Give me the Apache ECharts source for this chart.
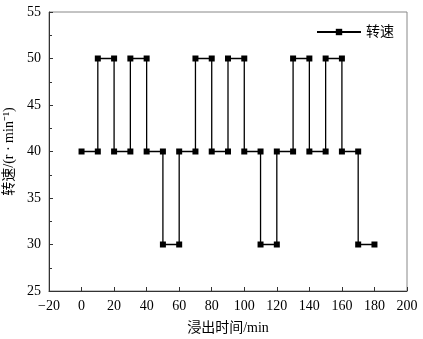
<!DOCTYPE html>
<html><head><meta charset="utf-8">
<script src="https://cdn.jsdelivr.net/npm/echarts@6/dist/echarts.min.js"></script>
<style>html,body{margin:0;padding:0;background:#fff}#c{width:423px;height:339px}</style>
</head><body><div id="c"></div>
<script>
const times = [0,10,10,20,20,30,30,40,40,50,50,60,60,70,70,80,80,90,90,100,100,110,110,120,120,130,130,140,140,150,150,160,160,170,170,180];
const speeds = [40,40,50,50,40,40,50,50,40,40,30,30,40,40,50,50,40,40,50,50,40,40,30,30,40,40,50,50,40,40,50,50,40,40,30,30];
const seriesName = '转速';
const xTitle = '浸出时间/min';
const yTitle = '转速/(r · min⁻¹)';

const chart = echarts.init(document.getElementById('c'));
const serif = '"Liberation Serif","Noto Sans CJK SC",serif';
chart.setOption({
  animation: false,
  grid: {left: 49, right: 16, top: 12, bottom: 48, show: true, borderColor: '#888', borderWidth: 1,
    outerBoundsMode: 'none', containLabel: false},
  legend: {
    right: 24, top: 20, itemWidth: 44, itemHeight: 8, itemGap: 12,
    textStyle: {fontFamily: serif, fontSize: 14, color: '#000'},
    data: [seriesName]
  },
  xAxis: {
    type: 'value', min: -20, max: 200, interval: 20,
    name: xTitle, nameLocation: 'middle', nameGap: 30,
    nameTextStyle: {fontFamily: serif, fontSize: 14, color: '#000'},
    axisLine: {show: true, onZero: false, lineStyle: {color: '#333', width: 1}},
    axisTick: {show: true, inside: true, length: 4, lineStyle: {color: '#333'}},
    axisLabel: {fontFamily: serif, fontSize: 14, color: '#000', margin: 8,
      formatter: v => String(v).replace('-', '\u2212')},
    splitLine: {show: false}
  },
  yAxis: {
    type: 'value', min: 25, max: 55, interval: 5,
    name: yTitle, nameLocation: 'middle', nameGap: 29,
    nameTextStyle: {fontFamily: serif, fontSize: 14, color: '#000'},
    axisLine: {show: true, onZero: false, lineStyle: {color: '#333', width: 1}},
    axisTick: {show: true, inside: true, length: 4, lineStyle: {color: '#333'}},
    minorTick: {show: true, splitNumber: 2, length: 3, lineStyle: {color: '#333'}},
    axisLabel: {fontFamily: serif, fontSize: 14, color: '#000', margin: 8},
    splitLine: {show: false}
  },
  series: [{
    name: seriesName, type: 'line',
    data: times.map((t, i) => [t, speeds[i]]),
    symbol: 'rect', symbolSize: 6, showAllSymbol: true,
    lineStyle: {color: '#000', width: 1.3},
    itemStyle: {color: '#000'}
  }]
});
</script></body></html>
